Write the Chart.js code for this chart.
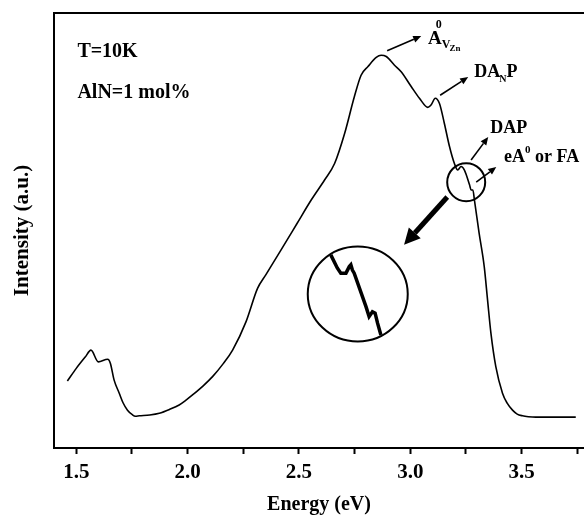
<!DOCTYPE html>
<html>
<head>
<meta charset="utf-8">
<script src="https://cdn.jsdelivr.net/npm/chart.js@4.4.0/dist/chart.umd.min.js"></script>
<style>
  html, body { margin: 0; padding: 0; background: #fff; }
  #wrap { width: 584px; height: 523px; }
</style>
</head>
<body>
<div id="wrap"><canvas id="myChart"></canvas></div>
<script>
"use strict";

// PL spectrum (intensity in arbitrary units, 0-100)
const energy = [1.46, 1.50, 1.54, 1.566, 1.599, 1.641, 1.653, 1.67, 1.693, 1.71,
  1.73, 1.753, 1.765, 1.783, 1.83, 1.873, 1.92, 1.962, 1.99, 2.022,
  2.07, 2.112, 2.16, 2.202, 2.262, 2.314, 2.351, 2.419, 2.49, 2.555,
  2.615, 2.66, 2.705, 2.749, 2.779, 2.81, 2.847, 2.869, 2.892, 2.929,
  2.959, 3.004, 3.041, 3.079, 3.094, 3.112, 3.131, 3.153, 3.176, 3.198,
  3.213, 3.228, 3.243, 3.266, 3.273, 3.281, 3.288, 3.309, 3.332, 3.347,
  3.362, 3.384, 3.414, 3.435, 3.459, 3.48, 3.504, 3.53, 3.564, 3.743];
const intensity = [15.4, 18.3, 20.9, 22.5, 19.8, 20.4, 19.5, 15.6, 12.6, 10.4,
  8.7, 7.6, 7.3, 7.4, 7.6, 8.0, 8.9, 9.9, 10.9, 12.2,
  14.3, 16.4, 19.4, 22.5, 29.0, 36.7, 39.8, 45.5, 51.5, 57.0,
  61.6, 65.4, 72.3, 80.8, 85.7, 87.7, 89.8, 90.3, 90.0, 88.0,
  86.5, 83.1, 80.4, 78.3, 78.9, 80.4, 79.2, 74.6, 69.3, 65.4,
  63.9, 64.7, 63.9, 60.5, 59.3, 59.3, 57.0, 49.4, 41.7, 34.0,
  26.4, 18.7, 12.6, 10.3, 8.7, 7.8, 7.4, 7.2, 7.1, 7.1];

// magnified piece shown inside the big circle
const insetEnergy = [2.643, 2.672, 2.688, 2.711, 2.726, 2.733, 2.740, 2.748,
  2.801, 2.815, 2.830, 2.842, 2.853, 2.868];
const insetIntensity = [44.4, 41.4, 40.2, 40.2, 41.7, 42.1, 40.9, 40.2,
  32.5, 30.2, 31.3, 31.0, 28.7, 26.0];

const xTickLabels = [1.5, 2.0, 2.5, 3.0, 3.5];

const serif = "'Liberation Serif', 'Times New Roman', serif";

const annotate = {
  id: 'annotate',
  afterDatasetsDraw(chart) {
    const ctx = chart.ctx;
    const xs = chart.scales.x, ys = chart.scales.y;
    const px = e => xs.getPixelForValue(e);
    const py = v => ys.getPixelForValue(v);
    const area = chart.chartArea;

    ctx.save();
    // top frame line
    ctx.strokeStyle = '#000';
    ctx.lineWidth = 2;
    ctx.beginPath();
    ctx.moveTo(area.left - 1, area.top);
    ctx.lineTo(area.right, area.top);
    ctx.stroke();

    function arrow(e1, v1, e2, v2, w, head, half) {
      const x1 = px(e1), y1 = py(v1), x2 = px(e2), y2 = py(v2);
      const a = Math.atan2(y2 - y1, x2 - x1);
      const bx = x2 - head * Math.cos(a), by = y2 - head * Math.sin(a);
      ctx.lineWidth = w;
      ctx.beginPath();
      ctx.moveTo(x1, y1);
      ctx.lineTo(bx, by);
      ctx.stroke();
      ctx.beginPath();
      ctx.moveTo(x2, y2);
      ctx.lineTo(bx + half * Math.sin(a), by - half * Math.cos(a));
      ctx.lineTo(bx - half * Math.sin(a), by + half * Math.cos(a));
      ctx.closePath();
      ctx.fill();
    }

    ctx.fillStyle = '#000';
    ctx.textBaseline = 'alphabetic';
    ctx.textAlign = 'left';

    ctx.font = 'bold 20px ' + serif;
    ctx.fillText('T=10K', px(1.505), py(89.9));
    ctx.fillText('AlN=1 mol%', px(1.505), py(80.5));

    // A0 VZn
    let x = px(3.08), y = py(92.9);
    ctx.font = 'bold 19px ' + serif;
    ctx.fillText('A', x, y);
    const wA = ctx.measureText('A').width;
    ctx.font = 'bold 12px ' + serif;
    ctx.fillText('0', x + wA - 6, y - 16);
    ctx.fillText('V', x + wA, y + 4);
    const wV = ctx.measureText('V').width;
    ctx.font = 'bold 9px ' + serif;
    ctx.fillText('Zn', x + wA + wV - 1, y + 7);

    // DA_N P
    x = px(3.287); y = py(85.3);
    ctx.font = 'bold 18px ' + serif;
    ctx.fillText('DA', x, y);
    let w = ctx.measureText('DA').width;
    ctx.font = 'bold 10px ' + serif;
    ctx.fillText('N', x + w - 1, y + 5);
    const wN = ctx.measureText('N').width;
    ctx.font = 'bold 18px ' + serif;
    ctx.fillText('P', x + w + wN - 1, y);

    ctx.fillText('DAP', px(3.359), py(72.4));

    // eA0 or FA
    x = px(3.421); y = py(65.7);
    ctx.fillText('eA', x, y);
    w = ctx.measureText('eA').width;
    ctx.font = 'bold 11px ' + serif;
    ctx.fillText('0', x + w, y - 9);
    const w0 = ctx.measureText('0').width;
    ctx.font = 'bold 18px ' + serif;
    ctx.fillText(' or FA', x + w + w0, y);

    // thin arrows
    arrow(2.896, 91.3, 3.049, 94.7, 1.6, 8, 3.5);
    arrow(3.134, 81.1, 3.260, 85.3, 1.6, 8, 3.5);
    arrow(3.273, 66.2, 3.350, 71.5, 1.6, 8, 3.5);
    arrow(3.296, 61.1, 3.386, 64.6, 1.6, 8, 3.5);

    // small circle on the curve
    ctx.lineWidth = 2;
    ctx.beginPath();
    ctx.arc(px(3.251), py(61.1), 19, 0, Math.PI * 2);
    ctx.stroke();

    // thick arrow toward the zoom
    arrow(3.166, 57.7, 2.972, 46.7, 5, 16, 8);

    // big circle
    ctx.lineWidth = 2;
    ctx.beginPath();
    ctx.ellipse(px(2.764), py(35.4), 50, 47.5, 0, 0, Math.PI * 2);
    ctx.stroke();
    ctx.restore();
  }
};

const data1 = {
  datasets: [
    {
      label: 'PL',
      data: energy.map((e, i) => ({ x: e, y: intensity[i] })),
      borderColor: '#000',
      borderWidth: 1.6,
      pointRadius: 0,
      tension: 0.2,
      cubicInterpolationMode: 'monotone',
      fill: false,
    }, {
      label: 'zoom',
      data: insetEnergy.map((e, i) => ({ x: e, y: insetIntensity[i] })),
      borderColor: '#000',
      borderWidth: 3.5,
      pointRadius: 0,
      tension: 0,
      fill: false,
    },
  ],
};

const config = {
  type: 'line',
  data: data1,
  options: {
    responsive: true,
    maintainAspectRatio: false,
    animation: false,
    layout: { padding: { top: 13, right: 0, left: 0, bottom: 0 } },
    plugins: {
      legend: { display: false },
      tooltip: { enabled: false },
    },
    scales: {
      x: {
        type: 'linear',
        min: 1.4,
        max: 3.78,
        afterFit: s => { s.height = 75; },
        border: { display: true, color: '#000', width: 2 },
        grid: { drawOnChartArea: false, drawTicks: true, tickLength: 6, tickColor: '#000', tickWidth: 2 },
        ticks: {
          stepSize: 0.25,
          includeBounds: false,
          autoSkip: false,
          maxRotation: 0,
          padding: 6,
          color: '#000',
          font: { family: serif, size: 21, weight: 'bold' },
          callback: v => xTickLabels.some(t => Math.abs(t - v) < 1e-6) ? v.toFixed(1) : '',
        },
        title: {
          display: true,
          text: 'Energy (eV)',
          color: '#000',
          font: { family: serif, size: 20, weight: 'bold' },
          padding: { top: 0, bottom: 6 },
        },
      },
      y: {
        min: 0,
        max: 100,
        afterFit: s => { s.width = 54; },
        border: { display: true, color: '#000', width: 2 },
        grid: { display: false },
        ticks: { display: false },
        title: {
          display: true,
          text: 'Intensity (a.u.)',
          color: '#000',
          font: { family: serif, size: 21, weight: 'bold' },
          padding: { top: 10, bottom: 0 },
        },
      },
    },
  },
  plugins: [annotate],
};

const ctx = document.getElementById('myChart').getContext('2d');
new Chart(ctx, config);
</script>
</body>
</html>
